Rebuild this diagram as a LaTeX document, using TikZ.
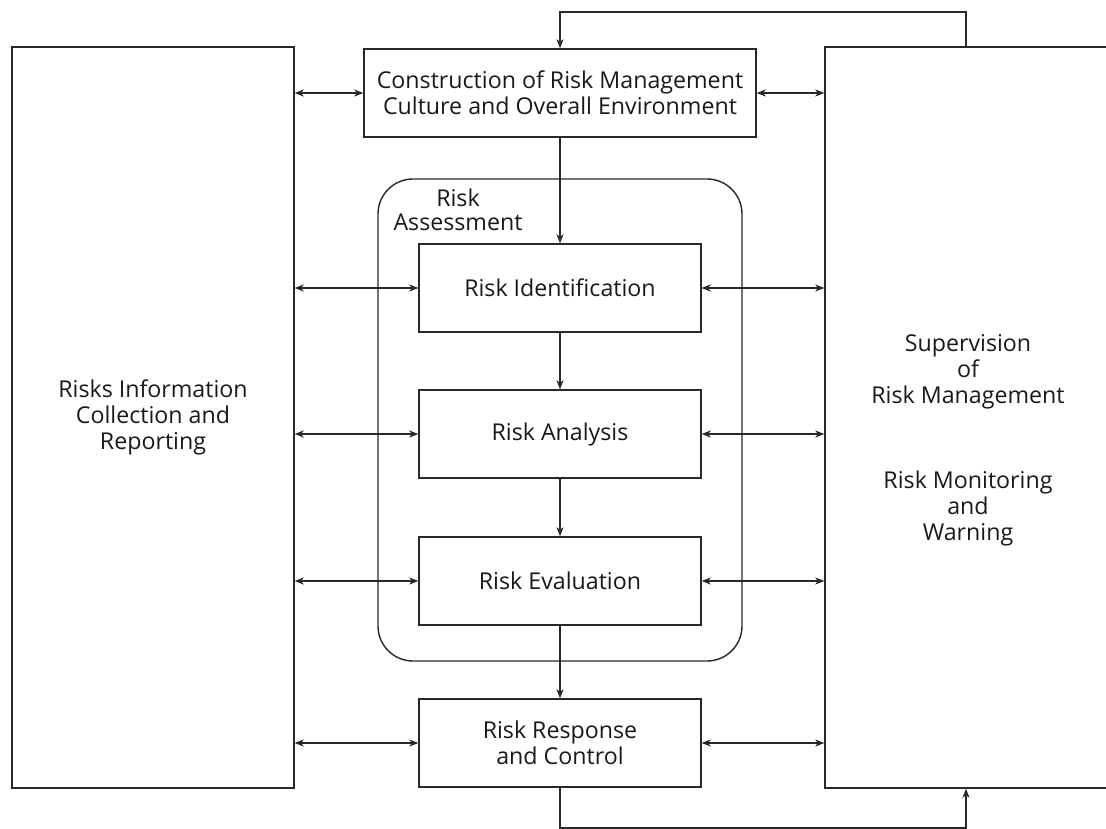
\documentclass[tikz,border=0pt]{standalone}
\usepackage{fontspec}
\setmainfont{Open Sans}
\usetikzlibrary{arrows.meta,positioning}
\definecolor{linegray}{RGB}{40,40,40}
\definecolor{textgray}{RGB}{25,25,25}

\begin{document}
\begin{tikzpicture}[x=1pt,y=-1pt,
    every node/.style={font=\fontsize{23.2}{26}\selectfont, text=textgray},
    stagebox/.style={draw=linegray, line width=1.4pt, minimum width=282pt, minimum height=88pt, inner sep=0pt, align=center},
    panel/.style={draw=linegray, line width=1.4pt, minimum height=741pt, inner sep=0pt, align=center},
    flow/.style={draw=linegray, line width=1.2pt, -{Stealth[length=9pt,width=7pt,inset=2.5pt]}},
    link/.style={draw=linegray, line width=1.2pt, {Stealth[length=9pt,width=7pt,inset=2.5pt]}-{Stealth[length=9pt,width=7pt,inset=2.5pt]}}]
    \clip (0,0) rectangle (1106,829);
    \useasboundingbox (0,0) rectangle (1106,829);

    % Side panels
    \node[panel, minimum width=282pt] (collect) at (153,417.5) {Risks Information\\Collection and\\Reporting};
    \node[panel, minimum width=286pt] (supervise) at (968,417.5) {};
    \node[align=center] (superText) at (968,440) {Supervision\\of\\Risk Management\\[59pt]Risk Monitoring\\and\\Warning};

    % Risk assessment frame
    \draw[linegray, line width=1.4pt, rounded corners=35pt] (378,179) rectangle (742,661);
    \node[align=center, font=\fontsize{23.2}{24.5}\selectfont] (assessLbl) at (458,210) {Risk\\Assessment};

    % Central stages
    \node[stagebox, minimum width=392pt] (culture) at (560,93) {Construction of Risk Management\\Culture and Overall Environment};
    \node[stagebox] (ident) at (560,288) {Risk Identification};
    \node[stagebox] (analysis) at (560,434) {Risk Analysis};
    \node[stagebox] (evaluation) at (560,581) {Risk Evaluation};
    \node[stagebox] (response) at (560,743) {Risk Response\\and Control};

    % Downward flow
    \draw[flow] (culture) -- (ident);
    \draw[flow] (ident) -- (analysis);
    \draw[flow] (analysis) -- (evaluation);
    \draw[flow] (evaluation) -- (response);

    % Links to the side panels
    \foreach \n in {culture,ident,analysis,evaluation,response}{
        \draw[link] (\n.west -| collect.east) -- (\n.west);
        \draw[link] (\n.east) -- (\n.east -| supervise.west);
    }

    % Feedback loops
    \coordinate (topTurn) at (966,12);
    \coordinate (botTurn) at (966,828);
    \draw[flow] (supervise.north -| topTurn) -- (topTurn) -- (topTurn -| culture.north) -- (culture.north);
    \draw[flow] (response.south) -- (response.south |- botTurn) -- (botTurn) -- (supervise.south -| botTurn);
\end{tikzpicture}
\end{document}
